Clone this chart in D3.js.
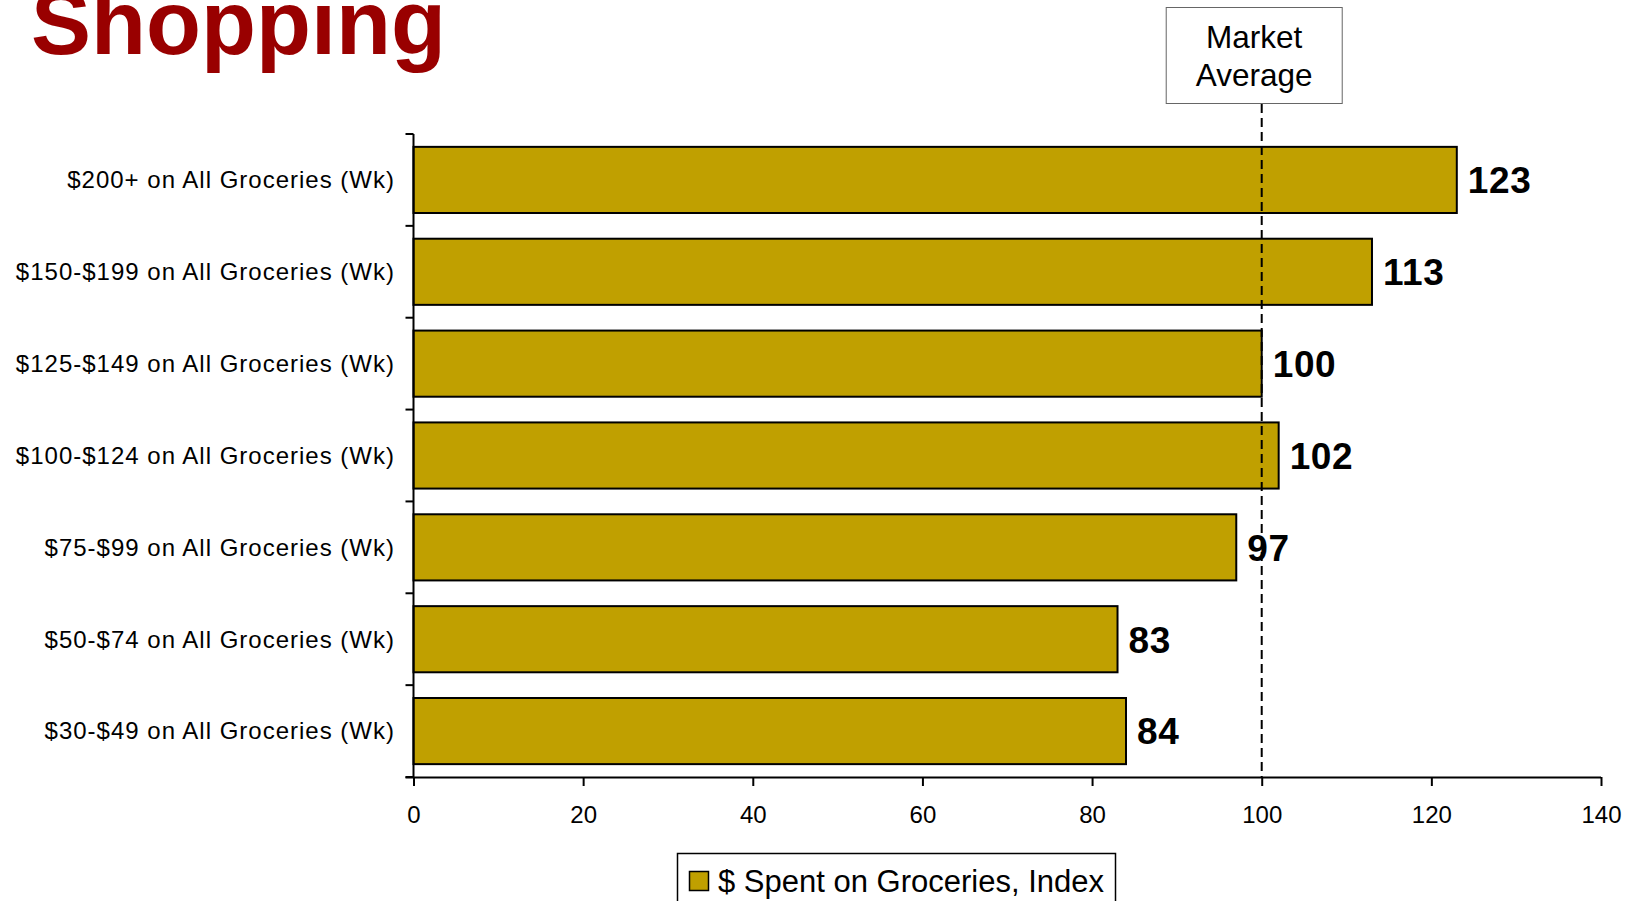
<!DOCTYPE html>
<html>
<head>
<meta charset="utf-8">
<script src="https://cdn.jsdelivr.net/npm/d3@7"></script>
<style>
  html, body { margin: 0; padding: 0; background: #fff; }
  svg { display: block; }
  text { font-family: Arial, "Liberation Sans", sans-serif; }
</style>
</head>
<body>
<svg id="chart" width="1631" height="901"></svg>
<script>
// ---- data ----
const categories = [
  "$200+ on All Groceries (Wk)",
  "$150-$199 on All Groceries (Wk)",
  "$125-$149 on All Groceries (Wk)",
  "$100-$124 on All Groceries (Wk)",
  "$75-$99 on All Groceries (Wk)",
  "$50-$74 on All Groceries (Wk)",
  "$30-$49 on All Groceries (Wk)"
];
const indexValues = [123, 113, 100, 102, 97, 83, 84];
const xTicks = [0, 20, 40, 60, 80, 100, 120, 140];
const seriesName = "$ Spent on Groceries, Index";
const marketAverage = 100;
const markerLabel = ["Market", "Average"];
const titleText = "Shopping";

// ---- drawing ----
const svg = d3.select("#chart");
const barColor = "#C0A000";

const x = d3.scaleLinear().domain([0, 140]).range([413.5, 1601]);
const y = d3.scaleBand().domain(categories).range([134, 777])
  .paddingInner(0.28).paddingOuter(0.14);

// title
svg.append("text")
  .attr("x", 31).attr("y", 54)
  .attr("font-size", 90).attr("font-weight", "bold")
  .attr("fill", "#990000")
  .text(titleText);

// bars
svg.append("g").selectAll("rect")
  .data(categories)
  .join("rect")
  .attr("x", x(0))
  .attr("y", d => y(d))
  .attr("width", (d, i) => x(indexValues[i]) - x(0))
  .attr("height", y.bandwidth())
  .attr("fill", barColor)
  .attr("stroke", "#000")
  .attr("stroke-width", 2);

// x axis
const xAxis = d3.axisBottom(x).tickValues(xTicks).tickSize(9).tickPadding(20);
const gx = svg.append("g").attr("transform", `translate(0,${777})`).call(xAxis);
gx.select(".domain").attr("d", `M${x(0) - 8},0.5H${x(140)}`).attr("stroke", "#000").attr("stroke-width", 2);
gx.selectAll(".tick line").attr("stroke", "#000").attr("stroke-width", 2);
gx.selectAll(".tick text")
  .attr("font-size", 24)
  .attr("font-family", "Arial, 'Liberation Sans', sans-serif")
  .attr("fill", "#000");

// y axis (category boundary ticks)
const boundaries = d3.range(categories.length + 1).map(i => 134 + i * (643 / categories.length));
const gy = svg.append("g");
gy.append("line")
  .attr("x1", x(0)).attr("x2", x(0))
  .attr("y1", 134).attr("y2", 777)
  .attr("stroke", "#000").attr("stroke-width", 2);
gy.selectAll("line.tk")
  .data(boundaries)
  .join("line")
  .attr("class", "tk")
  .attr("x1", x(0) - 8).attr("x2", x(0))
  .attr("y1", d => d).attr("y2", d => d)
  .attr("stroke", "#000").attr("stroke-width", 2);
gy.selectAll("text")
  .data(categories)
  .join("text")
  .attr("x", 395)
  .attr("y", d => y(d) + y.bandwidth() / 2)
  .attr("dy", "0.35em")
  .attr("text-anchor", "end")
  .attr("font-size", 24)
  .attr("letter-spacing", 1.0)
  .attr("fill", "#000")
  .text(d => d);

// value labels
svg.append("g").selectAll("text")
  .data(categories)
  .join("text")
  .attr("x", (d, i) => x(indexValues[i]) + 11)
  .attr("y", d => y(d) + y.bandwidth() / 2)
  .attr("dy", "0.36em")
  .attr("font-size", 37)
  .attr("font-weight", "bold")
  .attr("letter-spacing", 0.6)
  .attr("fill", "#000")
  .text((d, i) => indexValues[i]);

// market average line and box
const mx = x(marketAverage);
svg.append("line")
  .attr("x1", mx).attr("x2", mx)
  .attr("y1", 104).attr("y2", 777)
  .attr("stroke", "#000").attr("stroke-width", 2)
  .attr("stroke-dasharray", "9,5");
svg.append("rect")
  .attr("x", mx - 95.5).attr("y", 7.5)
  .attr("width", 176).attr("height", 96)
  .attr("fill", "#fff").attr("stroke", "#666").attr("stroke-width", 1);
svg.append("g").selectAll("text")
  .data(markerLabel)
  .join("text")
  .attr("x", mx - 7.5)
  .attr("y", (d, i) => 48 + i * 37.5)
  .attr("text-anchor", "middle")
  .attr("font-size", 31.5)
  .attr("fill", "#000")
  .text(d => d);

// legend
const lg = svg.append("g");
lg.append("rect")
  .attr("x", 677.5).attr("y", 853.5)
  .attr("width", 438).attr("height", 70)
  .attr("fill", "#fff").attr("stroke", "#000").attr("stroke-width", 1.5);
lg.append("rect")
  .attr("x", 689.5).attr("y", 871.5)
  .attr("width", 19).attr("height", 19)
  .attr("fill", barColor).attr("stroke", "#000").attr("stroke-width", 1.5);
lg.append("text")
  .attr("x", 718).attr("y", 892)
  .attr("font-size", 31)
  .attr("fill", "#000")
  .text(seriesName);
</script>
</body>
</html>
